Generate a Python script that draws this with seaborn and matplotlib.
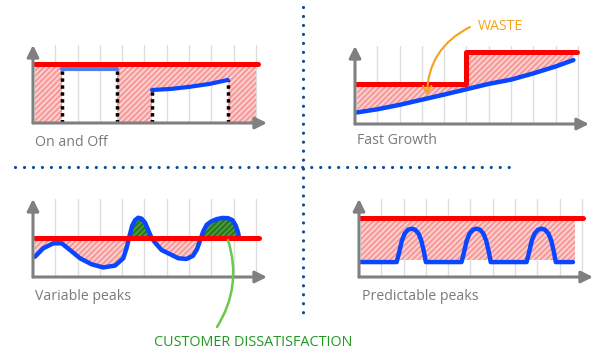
import numpy as np
import matplotlib.pyplot as plt
import seaborn as sns

# ---- data (panel units: one grid column = 1) ----
# On and Off
onoff_capacity_x = [0.05, 10.1]
onoff_capacity_y = [2.65, 2.65]
onoff_on_x = [1.3, 3.77]
onoff_on_y = [2.42, 2.42]
onoff_curve_x = [5.34, 6.2, 7.0, 7.9, 8.74]
onoff_curve_y = [1.48, 1.53, 1.62, 1.75, 1.93]
onoff_gate_x = [1.3, 3.77, 5.34, 8.74]
onoff_gate_top = [2.42, 2.42, 1.48, 1.93]

# Fast Growth
growth_step_x = [0, 5, 5, 9.95]
growth_step_y = [1.79, 1.79, 3.22, 3.22]
growth_x = [0.1, 1, 2, 3, 4, 5, 6, 7, 8, 9, 9.8]
growth_y = [0.52, 0.66, 0.86, 1.09, 1.32, 1.56, 1.8, 1.99, 2.27, 2.58, 2.87]

# Variable peaks
var_capacity_x = [0.09, 10.15]
var_capacity_y = [1.73, 1.73]
var_x = [0.09, 0.46, 0.91, 1.29, 1.66, 2.11, 2.63, 3.15, 3.68, 4.05, 4.2, 4.32,
         4.45, 4.58, 4.72, 4.87, 5.02, 5.15, 5.3, 5.47, 5.77, 6.22, 6.52, 6.89,
         7.18, 7.36, 7.5, 7.64, 7.8, 8.01, 8.25, 8.5, 8.75, 8.95, 9.1, 9.2, 9.24]
var_y = [0.91, 1.29, 1.51, 1.51, 1.21, 0.84, 0.57, 0.43, 0.51, 0.84, 1.3, 1.8,
         2.3, 2.55, 2.66, 2.62, 2.45, 2.15, 1.8, 1.55, 1.21, 0.99, 0.84, 0.81,
         0.95, 1.25, 1.65, 2.05, 2.35, 2.5, 2.6, 2.65, 2.64, 2.55, 2.3, 2.0, 1.8]

# Predictable peaks
pred_capacity_x = [0, 10.03]
pred_capacity_y = [2.66, 2.66]
pred_x = [0.09, 1.69, 1.8, 1.92, 2.05, 2.2, 2.36, 2.52, 2.67, 2.8, 2.92, 3.0,
          4.60, 4.71, 4.83, 4.96, 5.11, 5.27, 5.43, 5.58, 5.71, 5.83, 5.91,
          7.52, 7.63, 7.75, 7.88, 8.03, 8.19, 8.35, 8.50, 8.63, 8.75, 8.83, 9.6]
pred_y = [0.67, 0.67, 1.1, 1.62, 1.95, 2.12, 2.17, 2.12, 1.95, 1.62, 1.1, 0.67,
          0.67, 1.1, 1.62, 1.95, 2.12, 2.17, 2.12, 1.95, 1.62, 1.1, 0.67,
          0.67, 1.1, 1.62, 1.95, 2.12, 2.17, 2.12, 1.95, 1.62, 1.1, 0.67, 0.67]
pred_band = [0.1, 9.7, 0.78, 2.56]  # x0, x1, y0, y1 of the hatched band

RED = '#ff0000'
BLUE = '#0a46ff'
LIGHT_BLUE = '#4f7fe8'
PINK = '#fcd6d6'
HATCH = '#f79a9a'
GREEN = '#4f9f3b'
GREEN_HATCH = '#2a7420'
GREY = '#808080'
SEP = '#0b4c9a'

sns.set_style('white')
plt.rcParams['font.family'] = ['Open Sans', 'DejaVu Sans']
plt.rcParams['hatch.linewidth'] = 1.6

W, H = 600, 363
fig = plt.figure(figsize=(6, 3.63), dpi=100)
LINE = dict(estimator=None, sort=False, solid_joinstyle='round')


def make_panel(x0, y0):
    # x0, y0: pixel position of the axes origin
    ax = fig.add_axes([x0 / W, 1 - y0 / H, 234 / W, 78 / H])
    ax.set_xlim(0, 10.5)
    ax.set_ylim(0, 3.5)
    ax.set_xticks(range(1, 11))
    ax.set_yticks([])
    ax.tick_params(length=0, labelbottom=False)
    ax.grid(axis='x', color='#dedede', lw=1)
    for s in ax.spines.values():
        s.set_visible(False)
    ap = dict(arrowstyle='-|>,head_length=0.7,head_width=0.35', color=GREY,
              lw=2.2, shrinkA=0, shrinkB=0)
    ax.annotate('', xy=(1, 0), xytext=(0, 0), xycoords='axes fraction', arrowprops=ap)
    ax.annotate('', xy=(0, 1), xytext=(0, 0), xycoords='axes fraction', arrowprops=ap)
    return ax


def hatch_fill(ax, x, y1, y2, face=PINK, edge=HATCH, **kw):
    ax.fill_between(x, y1, y2, facecolor=face, edgecolor=edge, hatch='//////',
                    linewidth=0, **kw)


# ---- On and Off ----
ax1 = make_panel(33, 123)
top = onoff_capacity_y[0] - 0.08
hatch_fill(ax1, [0.1, onoff_gate_x[0]], 0, top)
hatch_fill(ax1, [onoff_gate_x[1], onoff_gate_x[2]], 0, top)
hatch_fill(ax1, onoff_curve_x, onoff_curve_y, top)
hatch_fill(ax1, [onoff_gate_x[3], 10.0], 0, top)
ax1.vlines(onoff_gate_x, 0, onoff_gate_top, colors='black', lw=2.5,
           linestyles=(0, (1, 1)))
sns.lineplot(x=onoff_on_x, y=onoff_on_y, ax=ax1, color=LIGHT_BLUE, lw=3, **LINE)
sns.lineplot(x=onoff_curve_x, y=onoff_curve_y, ax=ax1, color=BLUE, lw=3, **LINE)
sns.lineplot(x=onoff_capacity_x, y=onoff_capacity_y, ax=ax1, color=RED, lw=3.6, **LINE)

# ---- Fast Growth ----
ax2 = make_panel(355, 124)
gx = np.array(growth_x)
gy = np.array(growth_y)
lo = gx <= growth_step_x[1]
hi = gx >= growth_step_x[2]
hatch_fill(ax2, gx[lo], gy[lo], growth_step_y[0] - 0.08)
hatch_fill(ax2, gx[hi], gy[hi], growth_step_y[2] - 0.08)
sns.lineplot(x=growth_x, y=growth_y, ax=ax2, color=BLUE, lw=3.2, **LINE)
sns.lineplot(x=growth_step_x, y=growth_step_y, ax=ax2, color=RED, lw=3.6, **LINE)

# ---- Variable peaks ----
ax3 = make_panel(33, 277)
vx = np.array(var_x)
vy = np.array(var_y)
cap = var_capacity_y[0]
hatch_fill(ax3, vx, vy, cap, where=vy <= cap, interpolate=True)
hatch_fill(ax3, vx, vy, cap, face=GREEN, edge=GREEN_HATCH, where=vy >= cap,
           interpolate=True)
sns.lineplot(x=var_x, y=var_y, ax=ax3, color=BLUE, lw=3.2, **LINE)
sns.lineplot(x=var_capacity_x, y=var_capacity_y, ax=ax3, color=RED, lw=3.6, **LINE)

# ---- Predictable peaks ----
ax4 = make_panel(359, 277)
hatch_fill(ax4, pred_band[:2], pred_band[2], pred_band[3])
sns.lineplot(x=pred_x, y=pred_y, ax=ax4, color=BLUE, lw=3.2, **LINE)
sns.lineplot(x=pred_capacity_x, y=pred_capacity_y, ax=ax4, color=RED, lw=3.6, **LINE)

# ---- overlay: separators, titles, callouts ----
ov = fig.add_axes([0, 0, 1, 1])
ov.set_xlim(0, W)
ov.set_ylim(H, 0)
ov.axis('off')
ov.set_zorder(5)
dots = dict(color=SEP, lw=2.3, linestyle=(0, (0.01, 2.8)), dash_capstyle='round')
ov.plot([303, 303], [7, 318], **dots)
ov.plot([15, 515], [167, 167], **dots)

title_kw = dict(color='#7a7a7a', fontsize=10.2, va='center', ha='left')
ov.text(35, 142, 'On and Off', **title_kw)
ov.text(357, 141, 'Fast Growth', **title_kw)
ov.text(35, 296, 'Variable peaks', **title_kw)
ov.text(362, 297, 'Predictable peaks', **title_kw)

ov.text(478, 26, 'WASTE', color='#f7a21b', fontsize=10.2, va='center', ha='left')
ov.annotate('', xy=(427, 95), xytext=(470, 27),
            arrowprops=dict(arrowstyle='->,head_length=0.5,head_width=0.3',
                            color='#f7a21b', lw=1.5,
                            connectionstyle='arc3,rad=0.3', shrinkA=0, shrinkB=0))

ov.text(154, 342, 'CUSTOMER DISSATISFACTION', color='#1f9a1f', fontsize=10.4,
        va='center', ha='left')
ov.annotate('', xy=(228, 240), xytext=(217, 327),
            arrowprops=dict(arrowstyle='-', color='#6cc84a', lw=1.8,
                            connectionstyle='arc3,rad=0.23', shrinkA=0, shrinkB=0))

fig.savefig('out.png', dpi=100, facecolor='white')
